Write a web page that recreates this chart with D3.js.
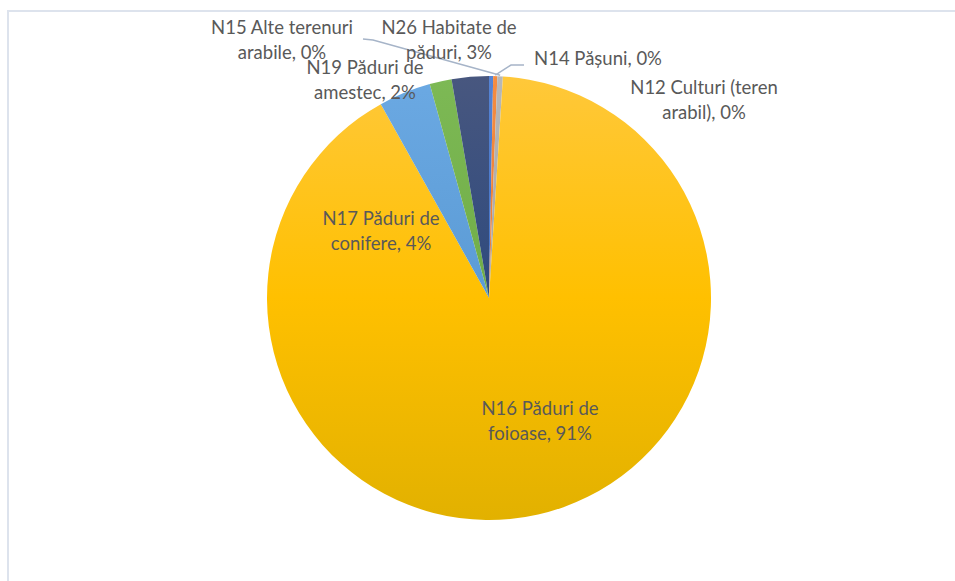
<!DOCTYPE html>
<html>
<head>
<meta charset="utf-8">
<script src="https://cdn.jsdelivr.net/npm/d3@7"></script>
<style>
  html, body { margin: 0; padding: 0; background: #fff; }
  svg { display: block; }
  text { font-family: Lato, "Open Sans", sans-serif; fill: #595959; }
</style>
</head>
<body>
<svg id="chart" width="955" height="581"></svg>
<script>
// Land-cover classes and their shares (%)
const categories = [
  "N12 Culturi (teren arabil)",
  "N14 Pășuni",
  "N15 Alte terenuri arabile",
  "N16 Păduri de foioase",
  "N17 Păduri de conifere",
  "N19 Păduri de amestec",
  "N26 Habitate de păduri"
];
const shares = [0.3, 0.3, 0.4, 90.9, 3.8, 1.6, 2.7];

// Label text split into lines (name part); the rounded percentage is appended
const labelHeads = [
  ["N12 Culturi (teren", "arabil)"],
  ["N14 Pășuni"],
  ["N15 Alte terenuri", "arabile"],
  ["N16 Păduri de", "foioase"],
  ["N17 Păduri de", "conifere"],
  ["N19 Păduri de", "amestec"],
  ["N26 Habitate de", "păduri"]
];

// Fill gradients per slice: [top, middle, bottom]
const sliceColors = [
  ["#5583d4", "#4472c4", "#3a64b0"],
  ["#f48c42", "#ed7d31", "#d96c22"],
  ["#b8b8b8", "#a5a5a5", "#959595"],
  ["#ffc83a", "#ffc000", "#e2b100"],
  ["#6ba9e3", "#5b9bd5", "#4a88c2"],
  ["#7db955", "#70ad47", "#5f9a39"],
  ["#48577f", "#2e4a7e", "#1f3d7a"]
];

const width = 955, height = 581;
const cx = 489, cy = 298, r = 222;

const svg = d3.select("#chart");

// light frame around the chart area
svg.append("path")
  .attr("d", `M8,${height} L8,11 L${width},11`)
  .attr("fill", "none")
  .attr("stroke", "#dde3ed")
  .attr("stroke-width", 2);

// vertical gradients in the pie group's own coordinates (centered at 0,0)
const defs = svg.append("defs");
sliceColors.forEach((c, i) => {
  const g = defs.append("linearGradient")
    .attr("id", "grad" + i)
    .attr("gradientUnits", "userSpaceOnUse")
    .attr("x1", 0).attr("y1", -r)
    .attr("x2", 0).attr("y2", r);
  g.append("stop").attr("offset", "0%").attr("stop-color", c[0]);
  g.append("stop").attr("offset", "50%").attr("stop-color", c[1]);
  g.append("stop").attr("offset", "100%").attr("stop-color", c[2]);
});

const pie = d3.pie().sort(null).value(d => d)(shares);
const arc = d3.arc().innerRadius(0).outerRadius(r);

const g = svg.append("g").attr("transform", `translate(${cx},${cy})`);
g.selectAll("path.slice")
  .data(pie)
  .join("path")
  .attr("class", "slice")
  .attr("d", arc)
  .attr("fill", (d, i) => `url(#grad${i})`);

// Leader lines for the thin slices at the top
const arcEdge = d3.arc().innerRadius(r).outerRadius(r);
function edgePoint(i) {
  const p = arcEdge.centroid(pie[i]);
  return [cx + p[0], cy + p[1]];
}
const leaders = [
  { i: 2, pts: [[363, 39], [373, 40]] },
  { i: 1, pts: [[524, 65], [511, 65]] }
];
leaders.forEach(l => {
  const e = edgePoint(l.i);
  svg.append("path")
    .attr("d", d3.line()([...l.pts, [e[0], e[1] - 1]]))
    .attr("fill", "none")
    .attr("stroke", "#a6b4c8")
    .attr("stroke-width", 1.5);
});

// Label anchor points (center x, first-line center y)
const labelPos = [
  [704, 88],
  [598, 59],
  [282, 28],
  [540, 409],
  [381, 219],
  [365, 68],
  [449, 28]
];
const lineGap = 25;
const pct = d3.format(".0f");

categories.forEach((c, i) => {
  const lines = labelHeads[i].slice();
  const last = lines.length - 1;
  lines[last] = lines[last] + ", " + pct(shares[i]) + "%";
  const t = svg.append("text")
    .attr("text-anchor", "middle")
    .attr("font-size", 18.5)
    .attr("x", labelPos[i][0])
    .attr("y", labelPos[i][1]);
  lines.forEach((s, k) => {
    t.append("tspan")
      .attr("x", labelPos[i][0])
      .attr("y", labelPos[i][1] + k * lineGap)
      .attr("dy", "0.35em")
      .text(s);
  });
});
</script>
</body>
</html>
